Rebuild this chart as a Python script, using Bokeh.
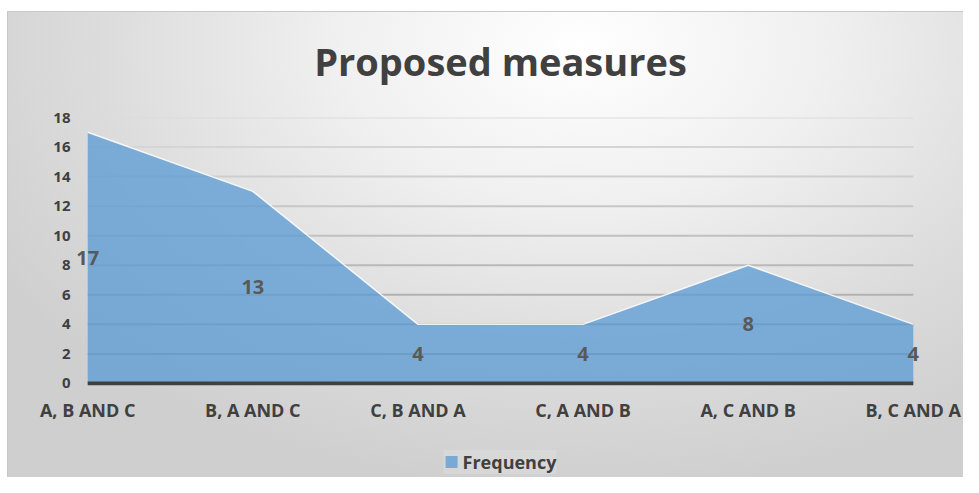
from bokeh.plotting import figure
from bokeh.layouts import column
from bokeh.models import (ColumnDataSource, Range1d, FixedTicker, LabelSet,
                          Legend, LegendItem)
from bokeh.core.properties import value
from bokeh.embed import file_html
from bokeh.resources import INLINE

# ---- data ----
categories = ["A, B AND C", "B, A AND C", "C, B AND A", "C, A AND B", "A, C AND B", "B, C AND A"]
frequency = [17, 13, 4, 4, 8, 4]
y_ticks = [0, 2, 4, 6, 8, 10, 12, 14, 16, 18]
title_text = "Proposed measures"
series_name = "Frequency"

xs = list(range(len(categories)))
src = ColumnDataSource(dict(
    x=xs,
    y=frequency,
    mid=[v / 2 for v in frequency],
    label=[str(v) for v in frequency],
))

FONT = "Open Sans"
TXT = "#404040"
BLUE = "#5B9BD5"
ALPHA = 0.76

# gridline colours: lighter at the top, darker near the base (style only)
n_grid = len(y_ticks) - 1
def _grey(i):
    t = i / max(n_grid - 1, 1)
    g = int(round(0xa4 + (0xdc - 0xa4) * t))
    return "#%02x%02x%02x" % (g, g, g)
grid_src = ColumnDataSource(dict(
    x0=[xs[0]] * n_grid,
    x1=[xs[-1]] * n_grid,
    y=y_ticks[1:],
    color=[_grey(i) for i in range(n_grid)],
))

W, H_MAIN, H_LEG = 963, 446, 31
PAD = 0.08
p = figure(width=W, height=H_MAIN, output_backend="svg", toolbar_location=None,
           x_range=Range1d(xs[0] - PAD, xs[-1] + PAD),
           y_range=Range1d(y_ticks[0] - 0.14, y_ticks[-1]),
           min_border_left=74, min_border_right=37, min_border_top=117,
           min_border_bottom=H_MAIN - 385)
p.border_fill_color = None
p.background_fill_color = None
p.outline_line_color = None

# title
p.title.text = title_text
p.title.align = "center"
p.title.text_font = FONT
p.title.text_font_size = "38px"
p.title.text_font_style = "bold"
p.title.text_color = TXT
p.title.standoff = 61

# grid (drawn as segments spanning the categories)
p.xgrid.grid_line_color = None
p.ygrid.grid_line_color = None
p.segment(x0="x0", y0="y", x1="x1", y1="y", source=grid_src,
          line_color="color", line_width=2)

# area
p.varea(x="x", y1=0, y2="y", source=src, fill_color=BLUE, fill_alpha=ALPHA)
p.line(x="x", y="y", source=src, line_color="white", line_width=1.5, line_alpha=0.85)

# base line at zero
p.segment(x0=xs[0], y0=y_ticks[0], x1=xs[-1], y1=y_ticks[0], line_color=TXT, line_width=4)

# data labels
labels = LabelSet(x="x", y="mid", text="label", source=src, text_align="center",
                  text_baseline="middle", text_font=value(FONT), text_font_size=value("20px"),
                  text_font_style="bold", text_color="#595959")
p.add_layout(labels)

# axes
p.xaxis.ticker = FixedTicker(ticks=xs)
p.xaxis.major_label_overrides = {i: c for i, c in zip(xs, categories)}
p.xaxis.axis_line_color = None
p.xaxis.major_tick_line_color = None
p.xaxis.minor_tick_line_color = None
p.xaxis.major_label_text_font = FONT
p.xaxis.major_label_text_font_size = "18px"
p.xaxis.major_label_text_font_style = "bold"
p.xaxis.major_label_text_color = TXT
p.xaxis.major_label_standoff = 6

p.yaxis.ticker = FixedTicker(ticks=y_ticks)
p.yaxis.axis_line_color = None
p.yaxis.major_tick_line_color = None
p.yaxis.minor_tick_line_color = None
p.yaxis.major_label_text_font = FONT
p.yaxis.major_label_text_font_size = "15px"
p.yaxis.major_label_text_font_style = "bold"
p.yaxis.major_label_text_color = TXT
p.yaxis.major_label_standoff = -2

# legend strip (separate small figure below the chart); its area renderer
# uses the same data but lies outside this strip's visible range
pl = figure(width=W, height=H_LEG, output_backend="svg", toolbar_location=None,
            x_range=Range1d(-30, -20), y_range=Range1d(-30, -20),
            x_axis_type=None, y_axis_type=None, min_border_left=40, min_border_right=0,
            min_border_top=0, min_border_bottom=0)
pl.border_fill_color = None
pl.background_fill_color = None
pl.outline_line_color = None
pl.xgrid.grid_line_color = None
pl.ygrid.grid_line_color = None
leg_r = pl.varea(x="x", y1=0, y2="y", source=src, fill_color=BLUE, fill_alpha=ALPHA)
legend = Legend(items=[LegendItem(label=series_name, renderers=[leg_r])],
                location="center", orientation="horizontal",
                glyph_width=15, glyph_height=15, label_text_font=FONT,
                label_text_font_size="18px", label_text_font_style="bold",
                label_text_color=TXT, background_fill_color="#ffffff",
                background_fill_alpha=0.15, border_line_color=None,
                margin=0, padding=3, spacing=4, label_standoff=4)
pl.add_layout(legend)

root = column(p, pl, spacing=0, styles={
    "background": (
        "linear-gradient(#c8c8c8, #c8c8c8) 7px 11px / 100% 1px no-repeat, "
        "linear-gradient(#c8c8c8, #c8c8c8) 7px 11px / 1px 100% no-repeat, "
        "radial-gradient(ellipse 72% 95% at 60% 8%, #ffffff 0%, #f0f0f0 35%, #dcdcdc 70%, #cfcfcf 100%) "
        "7px 11px / calc(100% - 7px) calc(100% - 11px) no-repeat, #ffffff"
    ),
})

open("out.html", "w").write(file_html(root, INLINE))
